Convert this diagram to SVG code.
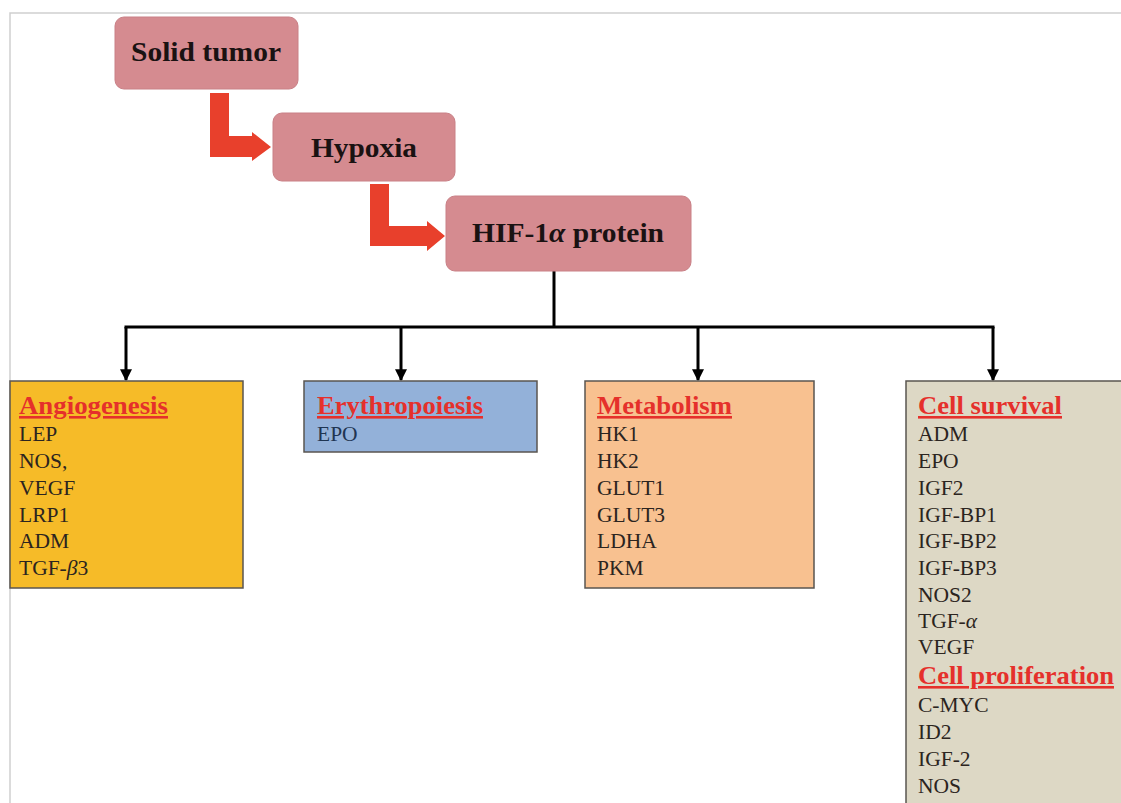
<svg xmlns="http://www.w3.org/2000/svg" width="1121" height="803" viewBox="0 0 1121 803">
<style>
.node rect{fill:#d58b90;stroke:#c98086;stroke-width:1}
.ntext{font-family:"Liberation Serif",serif;font-weight:bold;font-size:28px;fill:#1a1212;text-anchor:middle}
.hdr{font-family:"Liberation Serif",serif;font-weight:bold;font-size:26px;fill:#e5302b;text-decoration:underline}
.item{font-family:"Liberation Serif",serif;font-size:21.5px;fill:#2b2420}
.box{stroke:#5a5550;stroke-width:1.5}
.conn{stroke:#000;stroke-width:3;fill:none}
.red{fill:#e8402c}
</style>
<defs>
<marker id="ah" viewBox="0 0 10 10" refX="9" refY="5" markerWidth="4" markerHeight="4.5" orient="auto" markerUnits="strokeWidth">
<path d="M0,0 L10,5 L0,10 z" fill="#000"/>
</marker>
</defs>
<rect x="0" y="0" width="1121" height="803" fill="#fff"/>
<path d="M10,803 L10,13 L1121,13" fill="none" stroke="#cfcfcf" stroke-width="1.5"/>

<g id="connectors">
<polygon class="red" points="210,93 229,93 229,136 252,136 252,132 271,147 252,161 252,157 210,157"/>
<polygon class="red" points="370,184 389,184 389,226 427,226 427,221 445,236 427,251 427,246 370,246"/>
<line class="conn" x1="554" y1="271" x2="554" y2="327"/>
<line class="conn" x1="124.5" y1="327" x2="994.5" y2="327"/>
<line class="conn" x1="126" y1="327" x2="126" y2="380" marker-end="url(#ah)"/>
<line class="conn" x1="401" y1="327" x2="401" y2="380" marker-end="url(#ah)"/>
<line class="conn" x1="698" y1="327" x2="698" y2="380" marker-end="url(#ah)"/>
<line class="conn" x1="993" y1="327" x2="993" y2="380" marker-end="url(#ah)"/>
</g>

<g id="solid-tumor" class="node">
<rect x="115" y="17" width="183" height="72" rx="9"/>
<text class="ntext" x="206" y="61" textLength="150" lengthAdjust="spacingAndGlyphs">Solid tumor</text>
</g>
<g id="hypoxia" class="node">
<rect x="273" y="113" width="182" height="68" rx="9"/>
<text class="ntext" x="364" y="157" textLength="106" lengthAdjust="spacingAndGlyphs">Hypoxia</text>
</g>
<g id="hif1a" class="node">
<rect x="446" y="196" width="245" height="75" rx="9"/>
<text class="ntext" x="568" y="242" textLength="192" lengthAdjust="spacingAndGlyphs">HIF-1<tspan font-style="italic">α</tspan> protein</text>
</g>

<g id="angiogenesis">
<rect class="box" x="10" y="381" width="233" height="207" fill="#f6bb28"/>
<text class="hdr" x="19" y="414" textLength="149" lengthAdjust="spacingAndGlyphs">Angiogenesis</text>
<text class="item" x="19" y="441">LEP</text>
<text class="item" x="19" y="468">NOS,</text>
<text class="item" x="19" y="495">VEGF</text>
<text class="item" x="19" y="522">LRP1</text>
<text class="item" x="19" y="548">ADM</text>
<text class="item" x="19" y="575">TGF-<tspan font-style="italic">β</tspan>3</text>
</g>

<g id="erythropoiesis">
<rect class="box" x="304" y="381" width="233" height="71" fill="#93b1d9"/>
<text class="hdr" x="317" y="414" textLength="166" lengthAdjust="spacingAndGlyphs">Erythropoiesis</text>
<text class="item" x="317" y="441" fill="#1f3552" style="fill:#1f3552">EPO</text>
</g>

<g id="metabolism">
<rect class="box" x="585" y="381" width="229" height="207" fill="#f8c190"/>
<text class="hdr" x="597" y="414" textLength="135" lengthAdjust="spacingAndGlyphs">Metabolism</text>
<text class="item" x="597" y="441">HK1</text>
<text class="item" x="597" y="468">HK2</text>
<text class="item" x="597" y="495">GLUT1</text>
<text class="item" x="597" y="522">GLUT3</text>
<text class="item" x="597" y="548">LDHA</text>
<text class="item" x="597" y="575">PKM</text>
</g>

<g id="cell-survival">
<rect class="box" x="906" y="381" width="220" height="430" fill="#ddd8c5"/>
<text class="hdr" x="918" y="414" textLength="144" lengthAdjust="spacingAndGlyphs">Cell survival</text>
<text class="item" x="918" y="441">ADM</text>
<text class="item" x="918" y="468">EPO</text>
<text class="item" x="918" y="495">IGF2</text>
<text class="item" x="918" y="522">IGF-BP1</text>
<text class="item" x="918" y="548">IGF-BP2</text>
<text class="item" x="918" y="575">IGF-BP3</text>
<text class="item" x="918" y="602">NOS2</text>
<text class="item" x="918" y="628">TGF-<tspan font-style="italic">α</tspan></text>
<text class="item" x="918" y="654">VEGF</text>
<text class="hdr" x="918" y="684" textLength="196" lengthAdjust="spacingAndGlyphs">Cell proliferation</text>
<text class="item" x="918" y="712">C-MYC</text>
<text class="item" x="918" y="739">ID2</text>
<text class="item" x="918" y="766">IGF-2</text>
<text class="item" x="918" y="793">NOS</text>
</g>
</svg>
